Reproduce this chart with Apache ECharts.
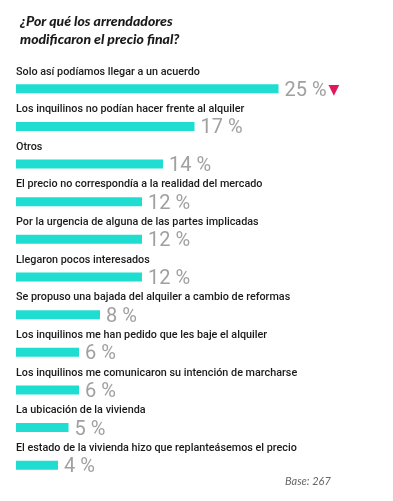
<!DOCTYPE html>
<html>
<head>
<meta charset="utf-8">
<script src="https://cdn.jsdelivr.net/npm/echarts@6/dist/echarts.min.js"></script>
<style>
  html, body { margin: 0; padding: 0; background: #fff; }
  #chart { width: 393px; height: 501px; }
</style>
</head>
<body>
<div id="chart"></div>
<script>
var categories = [
	'Solo así podíamos llegar a un acuerdo',
	'Los inquilinos no podían hacer frente al alquiler',
	'Otros',
	'El precio no correspondía a la realidad del mercado',
	'Por la urgencia de alguna de las partes implicadas',
	'Llegaron pocos interesados',
	'Se propuso una bajada del alquiler a cambio de reformas',
	'Los inquilinos me han pedido que les baje el alquiler',
	'Los inquilinos me comunicaron su intención de marcharse',
	'La ubicación de la vivienda',
	'El estado de la vivienda hizo que replanteásemos el precio'
];
var percentages = [25, 17, 14, 12, 12, 12, 8, 6, 6, 5, 4];
var titleText = '¿Por qué los arrendadores\nmodificaron el precio final?';
var baseText = 'Base: 267';

var myChart = echarts.init(document.getElementById('chart'));

var option = {
	animation: false,
	title: {
		text: titleText,
		left: 15,
		top: 7,
		textStyle: {
			fontFamily: 'Lato',
			fontStyle: 'italic',
			fontWeight: 900,
			fontSize: 14,
			lineHeight: 18,
			color: '#1a1a1a'
		}
	},
	graphic: [{
		type: 'text',
		left: 285,
		top: 476,
		style: {
			text: baseText,
			fontFamily: 'Lato',
			fontStyle: 'italic',
			fontSize: 11,
			fill: '#666'
		}
	}],
	grid: {
		left: 16,
		right: 9.5,
		top: 70,
		bottom: 17
	},
	xAxis: {
		type: 'value',
		min: 0,
		max: 35,
		show: false
	},
	yAxis: {
		type: 'category',
		inverse: true,
		data: categories,
		axisLine: { show: false },
		axisTick: { show: false },
		axisLabel: {
			inside: true,
			margin: 0,
			align: 'left',
			verticalAlign: 'bottom',
			lineHeight: 34,
			fontFamily: 'Roboto',
			fontWeight: 500,
			fontSize: 10.8,
			color: '#1a1a1a'
		}
	},
	series: [{
		type: 'bar',
		data: percentages,
		barWidth: 9,
		itemStyle: { color: '#1fddd0' },
		label: {
			show: true,
			position: 'right',
			distance: 6,
			offset: [0, 2],
			formatter: function (p) {
				var s = '{v|' + p.value + ' %}';
				if (p.dataIndex === 0) s += '{t|▼}';
				return s;
			},
			rich: {
				v: {
					fontFamily: 'Roboto',
					fontSize: 20,
					color: '#a0a0a0'
				},
				t: {
					fontFamily: 'DejaVu Sans',
					fontSize: 14,
					color: '#e0185a',
					padding: [0, 0, 0, 2]
				}
			}
		}
	}]
};

myChart.setOption(option);
</script>
</body>
</html>
